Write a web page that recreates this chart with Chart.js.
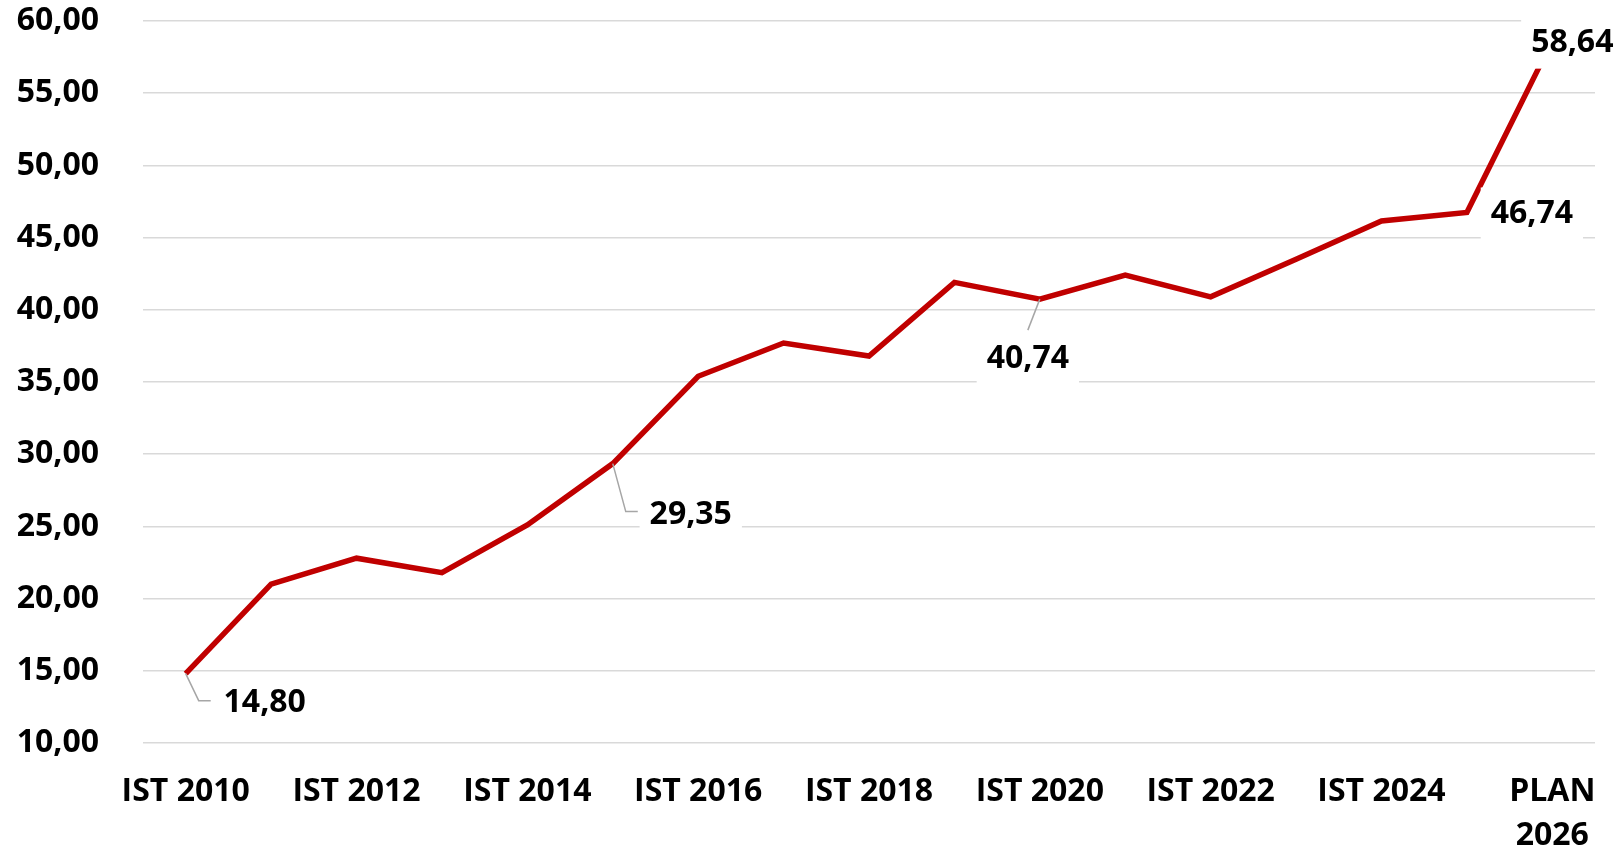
<!DOCTYPE html>
<html>
<head>
<meta charset="utf-8">
<script src="https://cdn.jsdelivr.net/npm/chart.js@4.4.1/dist/chart.umd.min.js"></script>
<style>
  html, body { margin: 0; padding: 0; background: #ffffff; }
  #wrap { width: 1616px; height: 853px; }
</style>
</head>
<body>
<div id="wrap"><canvas id="c" width="1616" height="853"></canvas></div>
<script>
// ---- data ----
const categories = ['IST 2010','IST 2011','IST 2012','IST 2013','IST 2014','IST 2015','IST 2016','IST 2017',
                    'IST 2018','IST 2019','IST 2020','IST 2021','IST 2022','IST 2023','IST 2024','IST 2025',
                    ['PLAN','2026']];
const values = [14.80, 21.0, 22.8, 21.8, 25.1, 29.35, 35.4, 37.7, 36.8, 41.9, 40.74, 42.4, 40.9, 43.5, 46.15, 46.74, 58.64];
const yTickValues = [10, 15, 20, 25, 30, 35, 40, 45, 50, 55, 60];
const labelledIndices = [0, 5, 10, 15, 16];

// ---- label placement styles (pixel offsets relative to each point) ----
const labelStyles = {
  0:  { dx: 79,  dy: 29, leader: [[0,0],[13,27],[25,27]] },
  5:  { dx: 78,  dy: 51, leader: [[0,0],[13,48],[25,48]] },
  10: { dx: -12, dy: 60, leader: [[0,0],[-12,31]] },
  15: { dx: 65,  dy: 1,  leader: null },
  16: { dx: 20,  dy: 2,  leader: null }
};

const FONT = "'Open Sans', 'Noto Sans', 'DejaVu Sans', sans-serif";
const fmt = v => v.toFixed(2).replace('.', ',');

const dataLabelPlugin = {
  id: 'dataLabels',
  afterDatasetsDraw(chart) {
    const ctx = chart.ctx;
    const meta = chart.getDatasetMeta(0);
    ctx.save();
    ctx.font = 'bold 32px ' + FONT;
    labelledIndices.forEach(i => {
      const pt = meta.data[i];
      const st = labelStyles[i];
      const px = pt.x, py = pt.y;
      const text = fmt(values[i]);
      const w = ctx.measureText(text).width;
      const cx = px + st.dx, cy = py + st.dy;
      if (st.leader) {
        ctx.strokeStyle = '#a6a6a6';
        ctx.lineWidth = 1.5;
        ctx.beginPath();
        st.leader.forEach((p, k) => {
          if (k === 0) ctx.moveTo(px + p[0], py + p[1]);
          else ctx.lineTo(px + p[0], py + p[1]);
        });
        ctx.stroke();
      }
      ctx.fillStyle = '#ffffff';
      ctx.fillRect(cx - w / 2 - 10, cy - 26, w + 20, 52);
      ctx.fillStyle = '#000000';
      ctx.textAlign = 'center';
      ctx.textBaseline = 'middle';
      ctx.fillText(text, cx, cy);
    });
    ctx.restore();
  }
};

new Chart(document.getElementById('c'), {
  type: 'line',
  data: {
    labels: categories,
    datasets: [{
      data: values,
      borderColor: '#C00000',
      backgroundColor: '#C00000',
      borderWidth: 5.5,
      pointRadius: 0,
      pointHoverRadius: 0,
      tension: 0,
      fill: false
    }]
  },
  options: {
    responsive: false,
    animation: false,
    events: [],
    layout: { padding: { left: 0, right: 21, top: 21, bottom: 0 } },
    plugins: { legend: { display: false }, tooltip: { enabled: false } },
    scales: {
      x: {
        type: 'category',
        offset: true,
        grid: { display: false, drawTicks: false },
        border: { display: false },
        afterFit: s => { s.height = 110; s.paddingLeft = 0; s.paddingRight = 0; },
        ticks: {
          autoSkip: false,
          maxRotation: 0,
          padding: 27,
          color: '#000000',
          font: { family: FONT, size: 32, weight: 'bold', lineHeight: 1.375 },
          callback: function(value, index) {
            return index % 2 === 0 ? this.getLabelForValue(value) : '';
          }
        }
      },
      y: {
        min: yTickValues[0],
        max: yTickValues[yTickValues.length - 1],
        afterBuildTicks: s => { s.ticks = yTickValues.map(v => ({ value: v })); },
        afterFit: s => { s.width = 143; s.paddingTop = 0; s.paddingBottom = 0; },
        grid: { color: '#d9d9d9', lineWidth: 1.5, drawTicks: false },
        border: { display: false },
        ticks: {
          padding: 44,
          color: '#000000',
          font: { family: FONT, size: 32, weight: 'bold', lineHeight: 1.2 },
          callback: v => fmt(v)
        }
      }
    }
  },
  plugins: [dataLabelPlugin]
});
</script>
</body>
</html>
